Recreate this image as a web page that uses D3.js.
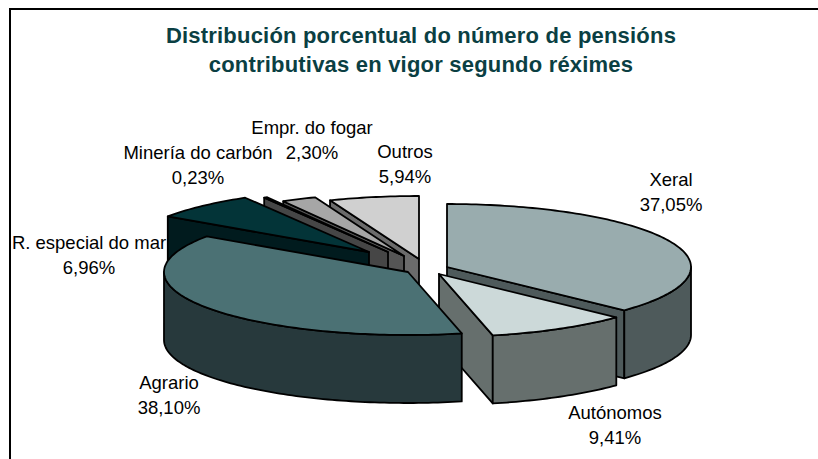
<!DOCTYPE html>
<html>
<head>
<meta charset="utf-8">
<script src="https://cdn.jsdelivr.net/npm/d3@7"></script>
<style>
  html, body { margin: 0; padding: 0; background: #fff; }
  svg { display: block; }
  text { font-family: "Liberation Sans", Arial, sans-serif; }
</style>
</head>
<body>
<svg id="chart" width="818" height="459"></svg>
<script>
const categories = ["Xeral", "Autónomos", "Agrario", "R. especial do mar", "Minería do carbón", "Empr. do fogar", "Outros"];
const shares = [37.05, 9.41, 38.10, 6.96, 0.23, 2.30, 5.94];
const shareLabels = ["37,05%", "9,41%", "38,10%", "6,96%", "0,23%", "2,30%", "5,94%"];
const titleLines = ["Distribución porcentual do número de pensións", "contributivas en vigor segundo réximes"];

// look of each slice, same order as categories
const topColors = ["#99acae", "#ccd9d9", "#4b7174", "#033438", "#2c2c2c", "#a6a6a6", "#d0d0d0"];
const sideColors = ["#4e5a5b", "#666f6d", "#27393c", "#011b1e", "#464646", "#555555", "#6b6b6b"];
const apexX = [447, 439, 408, 369, 388, 404, 419];
const apexY = [267, 274, 272, 252, 252, 256, 259];
const labelX = [671, 615, 169, 89, 198, 312, 405];
const labelY = [179, 412, 382, 242, 152, 127, 151];
const drawOrder = [6, 5, 4, 3, 0, 1, 2];

const rx = 244, ry = 63, depth = 68;

const svg = d3.select("#chart");

// frame, only the left and top edges show
svg.append("path")
  .attr("d", "M10,459V9H818")
  .attr("fill", "none")
  .attr("stroke", "#000")
  .attr("stroke-width", 2);

const title = svg.append("text")
  .attr("text-anchor", "middle")
  .attr("font-weight", "bold")
  .attr("font-size", 22)
  .attr("letter-spacing", 0.2)
  .attr("fill", "#0b3f43");
title.selectAll("tspan")
  .data(titleLines)
  .join("tspan")
  .attr("x", 421)
  .attr("y", (d, i) => 43 + i * 29)
  .text(d => d);

const pie = d3.pie().sort(null).startAngle(0).endAngle(2 * Math.PI);
const arcs = pie(shares);

// tilted pie: angle runs clockwise from the top
const px = a => rx * Math.sin(a);
const py = a => -ry * Math.cos(a);

function arcPoints(a0, a1) {
  const n = Math.max(2, Math.ceil((a1 - a0) / 0.02));
  return d3.range(n + 1).map(i => a0 + (a1 - a0) * i / n);
}

const line = d3.line();

const slices = svg.append("g")
  .selectAll("g")
  .data(drawOrder)
  .join("g")
  .attr("transform", i => `translate(${apexX[i]},${apexY[i]})`)
  .attr("stroke", "#000")
  .attr("stroke-width", 1.8)
  .attr("stroke-linejoin", "round");

slices.each(function (i) {
  const g = d3.select(this);
  const a0 = arcs[i].startAngle, a1 = arcs[i].endAngle;
  // cut faces, only the ones turned towards the viewer
  const faces = [];
  if (Math.sin(a0) < 0) faces.push(a0);
  if (Math.sin(a1) > 0.001) faces.push(a1);
  faces.forEach(a => {
    g.append("path")
      .attr("fill", sideColors[i])
      .attr("d", line([[0, 0], [px(a), py(a)], [px(a), py(a) + depth], [0, depth]]) + "Z");
  });
  // outer wall, front half only
  const w0 = Math.max(a0, Math.PI / 2);
  const w1 = Math.min(a1, 3 * Math.PI / 2);
  if (w1 > w0) {
    const upper = arcPoints(w0, w1).map(a => [px(a), py(a)]);
    const lower = upper.map(p => [p[0], p[1] + depth]).reverse();
    g.append("path")
      .attr("fill", sideColors[i])
      .attr("d", line(upper.concat(lower)) + "Z");
  }
  // top
  const rim = arcPoints(a0, a1).map(a => [px(a), py(a)]);
  g.append("path")
    .attr("fill", topColors[i])
    .attr("d", line([[0, 0]].concat(rim)) + "Z");
});

const labels = svg.append("g")
  .attr("font-size", 18.5)
  .attr("fill", "#000")
  .attr("text-anchor", "middle");

labels.selectAll("text")
  .data(categories)
  .join("text")
  .each(function (d, i) {
    const t = d3.select(this);
    t.append("tspan").attr("x", labelX[i]).attr("y", labelY[i] + 6.5).text(d);
    t.append("tspan").attr("x", labelX[i]).attr("y", labelY[i] + 32).text(shareLabels[i]);
  });
</script>
</body>
</html>
